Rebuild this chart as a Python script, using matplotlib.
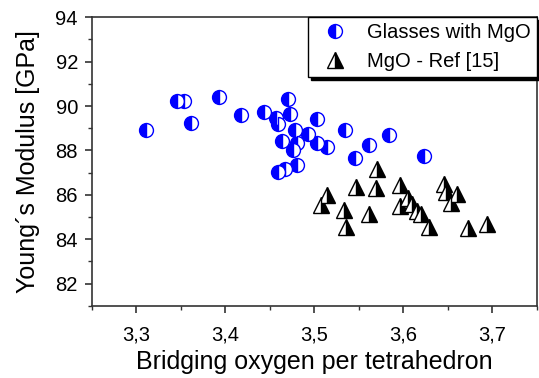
import matplotlib
matplotlib.use('Agg')
import matplotlib.pyplot as plt
from matplotlib.ticker import MultipleLocator

plt.rcParams['font.family'] = ['Liberation Sans', 'DejaVu Sans']

# Glasses with MgO
glass_bo = [3.311, 3.346, 3.354, 3.362, 3.393, 3.418, 3.444, 3.4575, 3.459,
            3.4705, 3.4725, 3.503, 3.478, 3.464, 3.493, 3.481, 3.476, 3.503,
            3.514, 3.535, 3.584, 3.561, 3.546, 3.623, 3.481, 3.467, 3.459]
glass_E = [88.94, 90.21, 90.21, 89.24, 90.41, 89.61, 89.73, 89.46, 89.19,
           90.33, 89.64, 89.43, 88.94, 88.44, 88.74, 88.34, 88.04, 88.34,
           88.14, 88.94, 88.71, 88.23, 87.67, 87.74, 87.33, 87.14, 87.04]

# MgO - Ref [15]
ref_bo = [3.571, 3.547, 3.569, 3.514, 3.508, 3.534, 3.561, 3.536, 3.596,
          3.596, 3.605, 3.610, 3.615, 3.620, 3.629, 3.646, 3.648, 3.661,
          3.654, 3.673, 3.694]
ref_E = [87.15, 86.35, 86.32, 85.98, 85.54, 85.31, 85.12, 84.56, 86.43,
         85.51, 85.85, 85.60, 85.27, 85.15, 84.53, 86.47, 86.12, 86.02,
         85.61, 84.52, 84.68]

x_ticks = [3.3, 3.4, 3.5, 3.6, 3.7]
x_ticklabels = ['3,3', '3,4', '3,5', '3,6', '3,7']
y_ticks = [82, 84, 86, 88, 90, 92, 94]
y_ticklabels = ['82', '84', '86', '88', '90', '92', '94']

fig = plt.figure(figsize=(5.39, 3.78), dpi=100)
ax = fig.add_axes([0.1703, 0.1913, 0.8254, 0.7629])

h1, = ax.plot(glass_bo, glass_E, ls='none', marker='o', ms=10, fillstyle='left',
              markerfacecolor='blue', markerfacecoloralt='white',
              markeredgecolor='blue', markeredgewidth=1.0,
              label='Glasses with MgO', zorder=3)
h2, = ax.plot(ref_bo, ref_E, ls='none', marker='^', ms=12, fillstyle='right',
              markerfacecolor='black', markerfacecoloralt='white',
              markeredgecolor='black', markeredgewidth=1.0,
              label='MgO - Ref [15]', zorder=3)

ax.set_xlim(3.25, 3.75)
ax.set_ylim(81, 94)
ax.set_xticks(x_ticks)
ax.set_xticklabels(x_ticklabels)
ax.set_yticks(y_ticks)
ax.set_yticklabels(y_ticklabels)
ax.xaxis.set_minor_locator(MultipleLocator(0.05))
ax.yaxis.set_minor_locator(MultipleLocator(1))

spc = '#333333'
for s in ax.spines.values():
    s.set_color(spc)
    s.set_linewidth(1.2)
ax.tick_params(which='major', direction='out', length=5, width=1.2, color=spc,
               labelsize=14.5, top=False, right=False)
ax.tick_params(which='minor', direction='out', length=3, width=1.0, color=spc,
               top=False, right=False)
ax.tick_params(axis='x', which='major', pad=9)
ax.tick_params(axis='y', which='major', pad=5)

ax.set_xlabel('Bridging oxygen per tetrahedron', fontsize=18, labelpad=4)
ax.set_ylabel('Young´s Modulus [GPa]', fontsize=18, labelpad=11)

leg = ax.legend(handles=[h1, h2], loc='upper right', borderaxespad=0,
                fancybox=False, edgecolor='black', framealpha=1,
                shadow={'color': 'black', 'alpha': 1},
                fontsize=14.5, handlelength=2.0, handletextpad=0.6,
                borderpad=0.3, labelspacing=0.5)
leg.get_frame().set_linewidth(1.0)

fig.savefig('out.png', dpi=100)
